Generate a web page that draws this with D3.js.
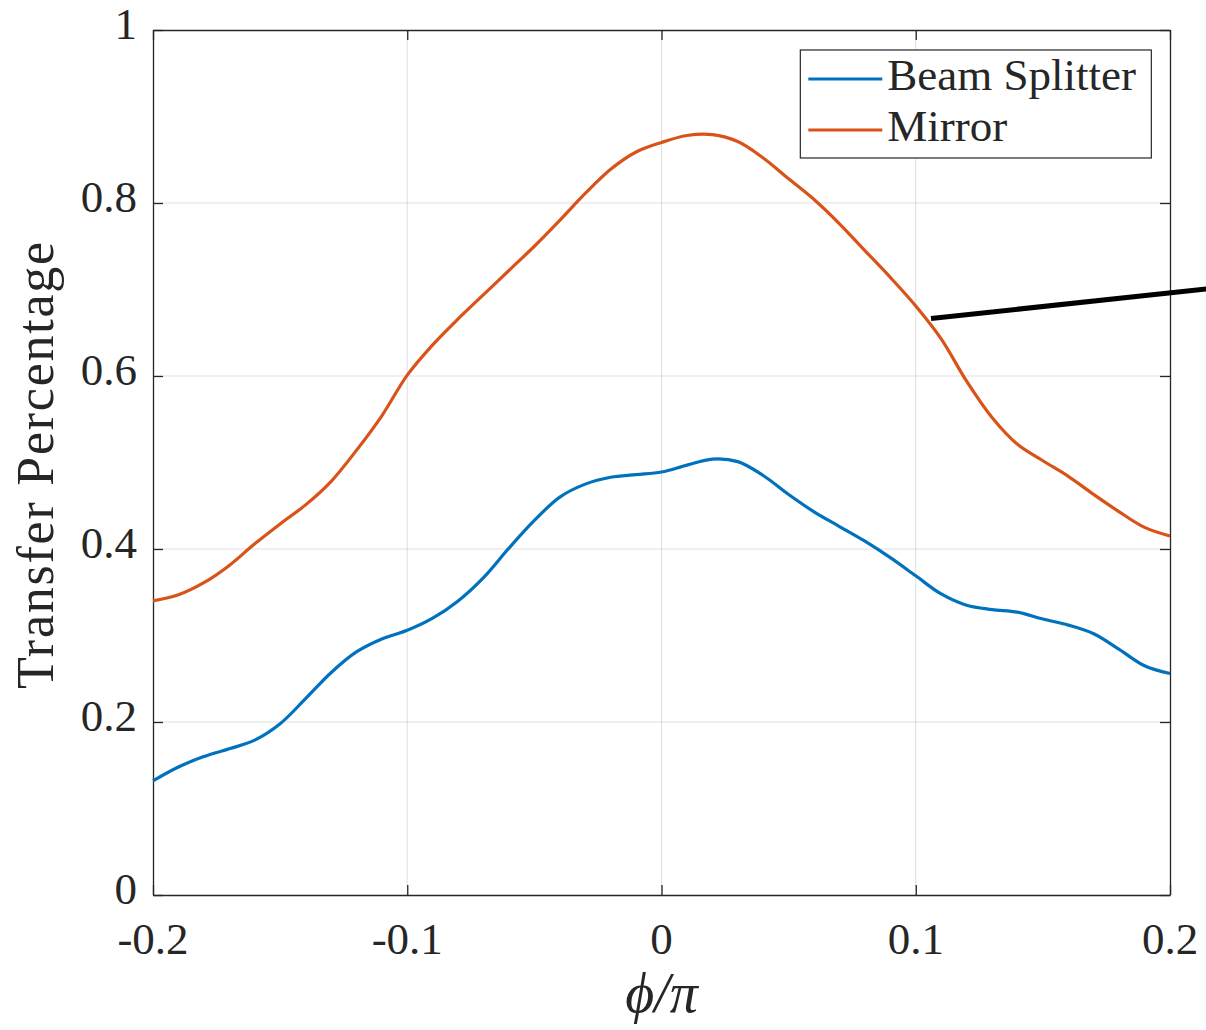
<!DOCTYPE html>
<html>
<head>
<meta charset="utf-8">
<script src="https://cdn.jsdelivr.net/npm/d3@7"></script>
<style>
  html, body { margin: 0; padding: 0; background: #ffffff; }
  svg { display: block; }
  text { font-family: "Liberation Serif", "DejaVu Serif", serif; fill: #262626; }
</style>
</head>
<body>
<svg id="chart" width="1206" height="1030"></svg>
<script>
// Phase offset φ/π at which the transfer was measured
const phase = [-0.20, -0.19, -0.18, -0.17, -0.16, -0.15, -0.14, -0.13, -0.12, -0.11,
               -0.10, -0.09, -0.08, -0.07, -0.06, -0.05, -0.04, -0.03, -0.02, -0.01,
                0.00,  0.01,  0.02,  0.03,  0.04,  0.05,  0.06,  0.07,  0.08,  0.09,
                0.10,  0.11,  0.12,  0.13,  0.14,  0.15,  0.16,  0.17,  0.18,  0.19, 0.20];

// Transfer through the beam splitter
const beamSplitter = [0.132, 0.148, 0.160, 0.169, 0.179, 0.198, 0.227, 0.257, 0.281, 0.296,
                      0.306, 0.320, 0.340, 0.367, 0.401, 0.433, 0.460, 0.475, 0.483, 0.486,
                      0.489, 0.497, 0.504, 0.501, 0.485, 0.463, 0.443, 0.426, 0.409, 0.390,
                      0.369, 0.348, 0.335, 0.330, 0.327, 0.319, 0.312, 0.302, 0.284, 0.265, 0.256];

// Transfer off the mirror
const mirror = [0.340, 0.347, 0.361, 0.381, 0.406, 0.429, 0.451, 0.478, 0.514, 0.554,
                0.601, 0.636, 0.666, 0.694, 0.722, 0.750, 0.780, 0.811, 0.839, 0.859,
                0.870, 0.878, 0.879, 0.871, 0.852, 0.828, 0.804, 0.776, 0.745, 0.714,
                0.681, 0.643, 0.594, 0.552, 0.521, 0.502, 0.484, 0.463, 0.443, 0.425, 0.415];

const seriesNames = ["Beam Splitter", "Mirror"];
const seriesColors = ["#0072BD", "#D95319"];

const xTicks = [-0.2, -0.1, 0, 0.1, 0.2];
const xTickLabels = ["-0.2", "-0.1", "0", "0.1", "0.2"];
const yTicks = [0, 0.2, 0.4, 0.6, 0.8, 1];
const yTickLabels = ["0", "0.2", "0.4", "0.6", "0.8", "1"];

// Pointer line drawn across the right edge (data units)
const pointerStart = [0.106, 0.6665];
const pointerEnd = [0.225, 0.704];

const margin = { left: 153, top: 30, right: 36, bottom: 135 };
const W = 1206, H = 1030;
const iw = W - margin.left - margin.right;
const ih = H - margin.top - margin.bottom;
const axisColor = "#262626";
const tickFont = 45;

const svg = d3.select("#chart");
const g = svg.append("g").attr("transform", `translate(${margin.left},${margin.top})`);

const x = d3.scaleLinear().domain([-0.2, 0.2]).range([0, iw]);
const y = d3.scaleLinear().domain([0, 1]).range([ih, 0]);

// Grid
g.append("g").selectAll("line").data(xTicks.slice(1, -1)).join("line")
  .attr("x1", d => x(d)).attr("x2", d => x(d)).attr("y1", 0).attr("y2", ih)
  .attr("stroke", axisColor).attr("stroke-opacity", 0.15).attr("stroke-width", 1);
g.append("g").selectAll("line").data(yTicks.slice(1, -1)).join("line")
  .attr("y1", d => y(d)).attr("y2", d => y(d)).attr("x1", 0).attr("x2", iw)
  .attr("stroke", axisColor).attr("stroke-opacity", 0.15).attr("stroke-width", 1);

// Axes with inward ticks on all four sides
function styleAxis(sel) {
  sel.select(".domain").attr("stroke", axisColor).attr("stroke-width", 1.3);
  sel.selectAll(".tick line").attr("stroke", axisColor).attr("stroke-width", 1.3);
  sel.selectAll("text").remove();
}
g.append("g").attr("transform", `translate(0,${ih})`)
  .call(d3.axisBottom(x).tickValues(xTicks).tickSize(-10).tickSizeOuter(0)).call(styleAxis);
g.append("g")
  .call(d3.axisTop(x).tickValues(xTicks).tickSize(-10).tickSizeOuter(0)).call(styleAxis);
g.append("g")
  .call(d3.axisLeft(y).tickValues(yTicks).tickSize(-10).tickSizeOuter(0)).call(styleAxis);
g.append("g").attr("transform", `translate(${iw},0)`)
  .call(d3.axisRight(y).tickValues(yTicks).tickSize(-10).tickSizeOuter(0)).call(styleAxis);

// Tick labels
g.append("g").selectAll("text").data(xTicks).join("text")
  .attr("x", d => x(d)).attr("y", ih + 59)
  .attr("text-anchor", "middle").attr("font-size", tickFont)
  .text((d, i) => xTickLabels[i]);
g.append("g").selectAll("text").data(yTicks).join("text")
  .attr("x", -16).attr("y", d => y(d) + 9)
  .attr("text-anchor", "end").attr("font-size", tickFont)
  .text((d, i) => yTickLabels[i]);

// Axis titles
const yTitle = svg.append("text")
  .attr("transform", `translate(53,${margin.top + ih / 2 + 2}) rotate(-90)`)
  .attr("text-anchor", "middle").attr("font-size", 52)
  .text("Transfer Percentage");
{
  const n = "Transfer Percentage".length;
  const len = yTitle.node().getComputedTextLength();
  yTitle.attr("letter-spacing", Math.max(0, (447 - len) / (n - 1)));
}
svg.append("text")
  .attr("x", margin.left + x(0)).attr("y", 1012)
  .attr("text-anchor", "middle").attr("font-size", 56).attr("font-style", "italic")
  .text("ϕ/π");

// Curves
const line = d3.line()
  .x((d, i) => x(phase[i]))
  .y(d => y(d))
  .curve(d3.curveCatmullRom.alpha(0.5));

[beamSplitter, mirror].forEach((vals, k) => {
  g.append("path")
    .attr("d", line(vals))
    .attr("fill", "none")
    .attr("stroke", seriesColors[k])
    .attr("stroke-width", 3.2)
    .attr("stroke-linejoin", "round");
});

// Legend
const lg = g.append("g").attr("transform", `translate(${x(0.0546)},${y(0.9769)})`);
lg.append("rect").attr("width", 351).attr("height", 108)
  .attr("fill", "#ffffff").attr("stroke", axisColor).attr("stroke-width", 1.2);
seriesNames.forEach((name, k) => {
  const yy = 29 + k * 51;
  lg.append("line").attr("x1", 8).attr("x2", 82).attr("y1", yy).attr("y2", yy)
    .attr("stroke", seriesColors[k]).attr("stroke-width", 3.2);
  lg.append("text").attr("x", 87).attr("y", yy + 11).attr("font-size", tickFont)
    .attr("fill", "#000").text(name);
});

// Pointer
g.append("line")
  .attr("x1", x(pointerStart[0])).attr("y1", y(pointerStart[1]))
  .attr("x2", x(pointerEnd[0])).attr("y2", y(pointerEnd[1]))
  .attr("stroke", "#000").attr("stroke-width", 5);
</script>
</body>
</html>
